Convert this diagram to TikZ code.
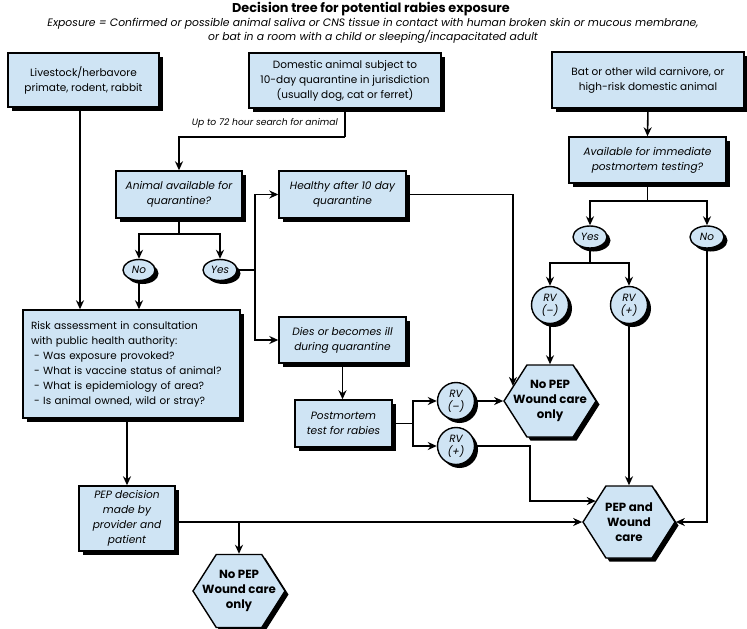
\documentclass[tikz,border=0pt]{standalone}
\usepackage{fontspec}
\setmainfont{Poppins}
\usetikzlibrary{arrows.meta,shapes.geometric,shapes.symbols,shadows,calc}
\definecolor{boxblue}{HTML}{CFE4F4}
\begin{document}
\begin{tikzpicture}[x=1pt,y=-1pt,
  shad/.style={drop shadow={shadow xshift=3.5pt,shadow yshift=-3.5pt,opacity=1,fill=black}},
  box/.style={draw=black, line width=1.4pt, fill=boxblue, shad, align=center, inner sep=3pt,
    font=\fontsize{10.5}{15}\selectfont},
  ibox/.style={box, font=\fontsize{10.6}{15}\selectfont\itshape},
  oval/.style={ellipse, draw=black, line width=1.4pt, fill=boxblue, shad, inner sep=0pt,
    font=\fontsize{10.5}{12}\selectfont\itshape},
  rv/.style={circle, draw=black, line width=1.4pt, fill=boxblue, shad, inner sep=0pt,
    minimum size=37pt, align=center, font=\fontsize{10.5}{13}\selectfont\itshape},
  hexa/.style={signal, signal to=east and west, signal pointer angle=115, draw=black,
    line width=1.4pt, fill=boxblue, shad, inner sep=0pt,
    minimum width=92pt, minimum height=72pt},
  hexlbl/.style={align=center, inner sep=0pt, font=\fontsize{11.8}{15}\selectfont\bfseries},
  ln/.style={line width=1.6pt},
  arr/.style={ln, -{Stealth[length=9pt,width=8pt]}},
  lbl/.style={font=\fontsize{9.2}{11}\selectfont\itshape, inner sep=0pt}
]
\useasboundingbox (0,0) rectangle (747,629);

% titles
\node[font=\fontsize{12.8}{15}\selectfont\bfseries, inner sep=0pt] (title) at (371,9) {Decision tree for potential rabies exposure};
\node[font=\fontsize{10.8}{13.8}\selectfont\itshape, align=center, inner sep=0pt] (sub) at (373,31)
  {Exposure = Confirmed or possible animal saliva or CNS tissue in contact with human broken skin or mucous membrane,\\
   or bat in a room with a child or sleeping/incapacitated adult};

% top boxes
\node[box, minimum width=151pt, minimum height=54pt] (b1) at (83.5,80) {Livestock/herbavore\\primate, rodent, rabbit};
\node[box, minimum width=192pt, minimum height=55pt] (b2) at (345,80.5) {Domestic animal subject to\\10-day quarantine in jurisdiction\\(usually dog, cat or ferret)};
\node[box, minimum width=192pt, minimum height=56pt] (b3) at (648,80) {Bat or other wild carnivore, or\\high-risk domestic animal};

\node[lbl, anchor=east] (search) at (338,123) {Up to 72 hour search for animal};

\node[ibox, minimum width=126pt, minimum height=47pt] (avail) at (179,194.5) {Animal available for\\quarantine?};
\node[ibox, minimum width=127pt, minimum height=47pt] (healthy) at (342.5,194.5) {Healthy after 10 day\\quarantine};
\node[ibox, minimum width=157pt, minimum height=46pt] (avail2) at (647.5,160) {Available for immediate\\postmortem testing?};

\node[oval, minimum width=32pt, minimum height=21pt] (no1) at (139,270) {No};
\node[oval, minimum width=34pt, minimum height=21pt] (yes1) at (220,270) {Yes};
\node[oval, minimum width=34pt, minimum height=22pt] (yes2) at (590,237) {Yes};
\node[oval, minimum width=34pt, minimum height=22pt] (no2) at (707,237) {No};

\node[rv] (rvm1) at (550,305) {RV\\(–)};
\node[rv] (rvp1) at (629,305) {RV\\(+)};

\node[box, align=left, inner xsep=8pt, text width=201pt, minimum height=108pt,
      font=\fontsize{10.4}{15}\selectfont] (risk) at (131.5,364)
  {Risk assessment in consultation\\with public health authority:\\
   \hspace*{3pt}- Was exposure provoked?\\
   \hspace*{3pt}- What is vaccine status of animal?\\
   \hspace*{3pt}- What is epidemiology of area?\\
   \hspace*{3pt}- Is animal owned, wild or stray?};

\node[ibox, minimum width=127pt, minimum height=46pt] (dies) at (342.5,340) {Dies or becomes ill\\during quarantine};
\node[ibox, minimum width=97pt, minimum height=47pt] (post) at (343.5,423.5) {Postmortem\\test for rabies};

\node[rv] (rvm2) at (456,401) {RV\\(–)};
\node[rv] (rvp2) at (456,446) {RV\\(+)};

\node[hexa, label={[hexlbl]center:No PEP\\Wound care\\only}] (nopep2) at (550,401) {};
\node[hexa, label={[hexlbl]center:PEP and\\Wound\\care}] (pep) at (629,522) {};

\node[ibox, minimum width=96pt, minimum height=65pt] (pepd) at (127,518.5) {PEP decision\\made by\\provider and\\patient};
\node[hexa, minimum height=73pt, label={[hexlbl]center:No PEP\\Wound care\\only}] (nopep1) at (239,591) {};

% connectors
\draw[arr] ([xshift=-3.5pt]b1.south) -- ([xshift=-3.5pt]b1.south |- risk.north);
\draw[ln] (b2.south) -- (345,137) coordinate (c72);
\draw[arr] (c72) -| (avail.north);

\draw[ln] (avail.south) -- ++(0,15) coordinate (s1);
\draw[arr] (s1) -| (no1.north);
\draw[arr] (s1) -| (yes1.north);
\draw[arr] (no1.south) -- (no1.south |- risk.north);

\draw[ln] (yes1.east) -- (255,270) coordinate (j1);
\draw[arr] (j1) |- (healthy.west);
\draw[arr] (j1) |- (dies.west);

\draw[arr] (healthy.east) -| ($(nopep2.west)!0.41!([xshift=-23pt]nopep2.north)$);

\draw[arr] (b3.south) -- (avail2.north);
\draw[ln] (avail2.south) -- ++(0,17) coordinate (s2);
\draw[arr] (s2) -| (yes2.north);
\draw[arr] (s2) -| (no2.north);
\draw[ln] (yes2.south) -- ++(0,14) coordinate (s3);
\draw[arr] (s3) -| (rvm1.north);
\draw[arr] (s3) -| (rvp1.north);
\draw[arr] (rvm1.south) -- (nopep2.north);
\draw[arr] (rvp1.south) -- (pep.north);
\draw[arr] (no2.south) |- (pep.east);

\draw[arr] (dies.south) -- (dies.south |- post.north);
\draw[ln] (post.east) -- (413,423.5) coordinate (j2);
\draw[arr] (j2) |- (rvm2.west);
\draw[arr] (j2) |- (rvp2.west);
\draw[arr] (rvm2.east) -- (nopep2.west);
\draw[arr] (rvp2.east) -- ++(55,0) |- ($(pep.west)!0.571!([xshift=-23pt]pep.north)$);

\draw[arr] (127,0 |- risk.south) -- (127,0 |- pepd.north);
\draw[arr] (pepd.east |- pep.west) -- (pep.west);
\draw[arr] (nopep1.north |- pep.west) -- (nopep1.north);
\end{tikzpicture}
\end{document}
